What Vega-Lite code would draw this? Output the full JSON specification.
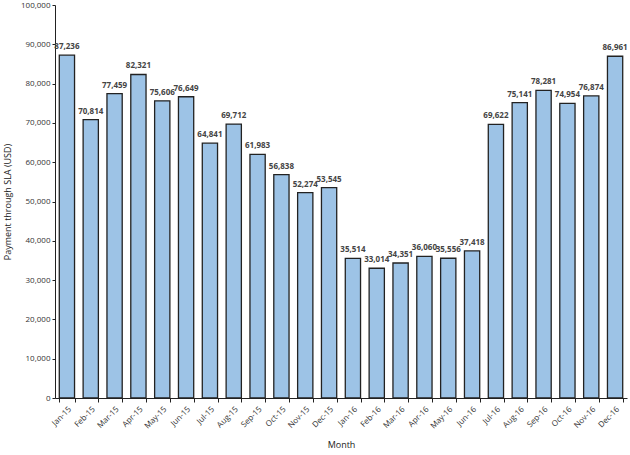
{
  "$schema": "https://vega.github.io/schema/vega-lite/v6.json",
  "autosize": "none",
  "width": 572,
  "height": 393,
  "padding": {"left": 55, "top": 5, "right": 3, "bottom": 57},
  "background": "white",
  "data": {"values": [
    {"Month": "Jan-15", "Value": 87236},
    {"Month": "Feb-15", "Value": 70814},
    {"Month": "Mar-15", "Value": 77459},
    {"Month": "Apr-15", "Value": 82321},
    {"Month": "May-15", "Value": 75606},
    {"Month": "Jun-15", "Value": 76649},
    {"Month": "Jul-15", "Value": 64841},
    {"Month": "Aug-15", "Value": 69712},
    {"Month": "Sep-15", "Value": 61983},
    {"Month": "Oct-15", "Value": 56838},
    {"Month": "Nov-15", "Value": 52274},
    {"Month": "Dec-15", "Value": 53545},
    {"Month": "Jan-16", "Value": 35514},
    {"Month": "Feb-16", "Value": 33014},
    {"Month": "Mar-16", "Value": 34351},
    {"Month": "Apr-16", "Value": 36060},
    {"Month": "May-16", "Value": 35556},
    {"Month": "Jun-16", "Value": 37418},
    {"Month": "Jul-16", "Value": 69622},
    {"Month": "Aug-16", "Value": 75141},
    {"Month": "Sep-16", "Value": 78281},
    {"Month": "Oct-16", "Value": 74954},
    {"Month": "Nov-16", "Value": 76874},
    {"Month": "Dec-16", "Value": 86961}
  ]},
  "config": {
    "view": {"stroke": null},
    "font": "Open Sans",
    "axis": {"grid": false, "domainColor": "#222", "tickColor": "#222", "labelColor": "#333", "titleColor": "#222", "labelFont": "Open Sans", "titleFont": "Open Sans"}
  },
  "encoding": {
    "x": {"field": "Month", "type": "nominal", "sort": null,
      "scale": {"paddingInner": 0.36, "paddingOuter": 0.18},
      "axis": {"title": "Month", "labelAngle": -45, "labelFontSize": 8, "tickBand": "extent", "tickSize": 4, "titleFontSize": 9, "titleFontWeight": "normal", "titlePadding": 10, "labelPadding": 3}},
    "y": {"field": "Value", "type": "quantitative",
      "scale": {"domain": [0, 100000]},
      "axis": {"title": "Payment through SLA (USD)", "tickCount": 10, "format": ",d", "labelFontSize": 8, "tickSize": 3, "titleFontSize": 9, "titleFontWeight": "normal", "titlePadding": 8}}
  },
  "layer": [
    {"mark": {"type": "bar", "fill": "#9dc3e6", "stroke": "#222", "strokeWidth": 1.3}},
    {"mark": {"type": "text", "dy": -8, "fontSize": 8, "fontWeight": "bold", "color": "#444"},
     "encoding": {"text": {"field": "Value", "type": "quantitative", "format": ","}}}
  ]
}
